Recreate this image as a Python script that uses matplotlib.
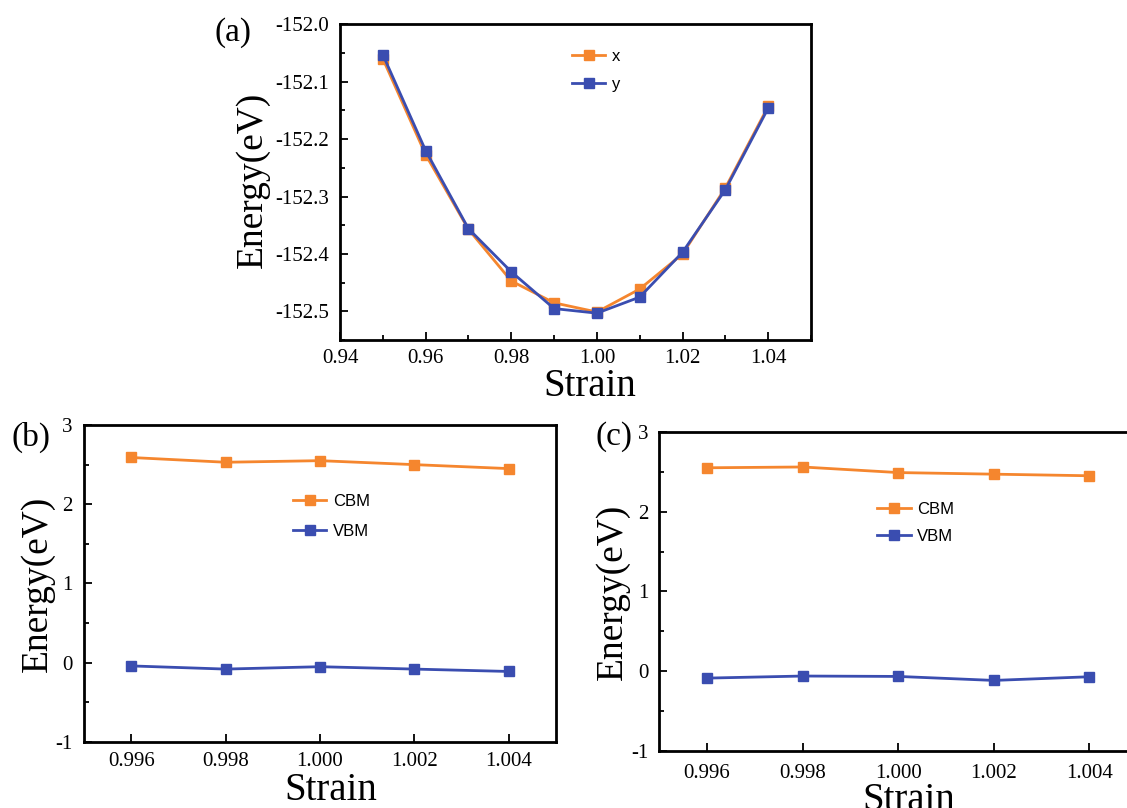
import matplotlib
matplotlib.use("Agg")
import matplotlib.pyplot as plt
from matplotlib.ticker import MultipleLocator, FormatStrFormatter

plt.rcParams['axes.unicode_minus'] = False
plt.rcParams['font.family'] = ['Liberation Serif', 'DejaVu Serif']

# ---- data ----
strain_a = [0.95, 0.96, 0.97, 0.98, 0.99, 1.00, 1.01, 1.02, 1.03, 1.04]
energy_x = [-152.060, -152.227, -152.357, -152.447, -152.485, -152.501,
            -152.461, -152.400, -152.285, -152.143]
energy_y = [-152.053, -152.220, -152.356, -152.431, -152.495, -152.503,
            -152.475, -152.397, -152.288, -152.146]

strain_bc = [0.996, 0.998, 1.000, 1.002, 1.004]
cbm_b = [2.59, 2.53, 2.55, 2.50, 2.45]
vbm_b = [-0.04, -0.08, -0.05, -0.08, -0.11]
cbm_c = [2.55, 2.56, 2.49, 2.47, 2.45]
vbm_c = [-0.086, -0.060, -0.065, -0.115, -0.069]

ORANGE = '#F5862E'
BLUE = '#3A4DB0'

fig = plt.figure(figsize=(11.27, 8.08), dpi=100)

def style(ax, xpad):
    for s in ax.spines.values():
        s.set_linewidth(2)
    ax.tick_params(which='both', direction='in', labelsize=15, width=1.3,
                   top=False, right=False)
    ax.tick_params(which='major', length=6)
    ax.tick_params(which='minor', length=3.5)
    ax.tick_params(axis='x', which='major', pad=xpad)
    ax.tick_params(axis='y', which='major', pad=8)

def series(ax, x, y, color, label):
    ax.plot(x, y, '-', color=color, lw=2, marker='s', ms=6.5,
            markeredgecolor=color, label=label)

legfont = {'family': 'Liberation Sans', 'size': 12}

# ---- panel (a) ----
axa = fig.add_axes([0.3017, 0.579, 0.4179, 0.391])
series(axa, strain_a, energy_x, ORANGE, 'x')
series(axa, strain_a, energy_y, BLUE, 'y')
axa.set_xlim(0.94, 1.05)
axa.set_ylim(-152.55, -152.0)
axa.xaxis.set_major_locator(MultipleLocator(0.02))
axa.xaxis.set_minor_locator(MultipleLocator(0.01))
axa.yaxis.set_major_locator(MultipleLocator(0.1))
axa.yaxis.set_minor_locator(MultipleLocator(0.05))
axa.xaxis.set_major_formatter(FormatStrFormatter('%.2f'))
axa.yaxis.set_major_formatter(FormatStrFormatter('%.1f'))
style(axa, 6)
axa.set_xlabel('Strain', fontsize=28)
axa.set_ylabel('Energy(eV)', fontsize=27)
axa.xaxis.set_label_coords(0.53, -0.088)
axa.yaxis.set_label_coords(-0.149, 0.506)
axa.legend(loc='upper left', bbox_to_anchor=(0.461, 0.97), frameon=False,
           prop=legfont, handlelength=2.0, handletextpad=0.4, labelspacing=0.8)
fig.text(0.19, 0.960, '(a)', fontsize=24, ha='left', va='center')

# ---- panel (b) ----
axb = fig.add_axes([0.0745, 0.0817, 0.4188, 0.3923])
series(axb, strain_bc, cbm_b, ORANGE, 'CBM')
series(axb, strain_bc, vbm_b, BLUE, 'VBM')
axb.set_xlim(0.995, 1.005)
axb.set_ylim(-1, 3)
axb.set_xticks(strain_bc)
axb.xaxis.set_major_formatter(FormatStrFormatter('%.3f'))
axb.yaxis.set_major_locator(MultipleLocator(1))
axb.yaxis.set_minor_locator(MultipleLocator(0.5))
axb.yaxis.set_major_formatter(FormatStrFormatter('%d'))
style(axb, 7.5)
axb.set_xlabel('Strain', fontsize=28)
axb.set_ylabel('Energy(eV)', fontsize=27)
axb.xaxis.set_label_coords(0.522, -0.094)
axb.yaxis.set_label_coords(-0.061, 0.5)
axb.legend(loc='upper left', bbox_to_anchor=(0.411, 0.83), frameon=False,
           prop=legfont, handlelength=2.0, handletextpad=0.4, labelspacing=0.9)
fig.text(0.01, 0.459, '(b)', fontsize=24, ha='left', va='center')

# ---- panel (c) ----
axc = fig.add_axes([0.585, 0.0705, 0.424, 0.395])
series(axc, strain_bc, cbm_c, ORANGE, 'CBM')
series(axc, strain_bc, vbm_c, BLUE, 'VBM')
axc.set_xlim(0.995, 1.005)
axc.set_ylim(-1, 3)
axc.set_xticks(strain_bc)
axc.xaxis.set_major_formatter(FormatStrFormatter('%.3f'))
axc.yaxis.set_major_locator(MultipleLocator(1))
axc.yaxis.set_minor_locator(MultipleLocator(0.5))
axc.yaxis.set_major_formatter(FormatStrFormatter('%d'))
style(axc, 9)
axc.set_xlabel('Strain', fontsize=28)
axc.set_ylabel('Energy(eV)', fontsize=27)
axc.xaxis.set_label_coords(0.522, -0.098)
axc.yaxis.set_label_coords(-0.061, 0.5)
axc.legend(loc='upper left', bbox_to_anchor=(0.425, 0.828), frameon=False,
           prop=legfont, handlelength=2.0, handletextpad=0.4, labelspacing=0.75)
fig.text(0.528, 0.460, '(c)', fontsize=24, ha='left', va='center')

fig.savefig('out.png', dpi=100)
